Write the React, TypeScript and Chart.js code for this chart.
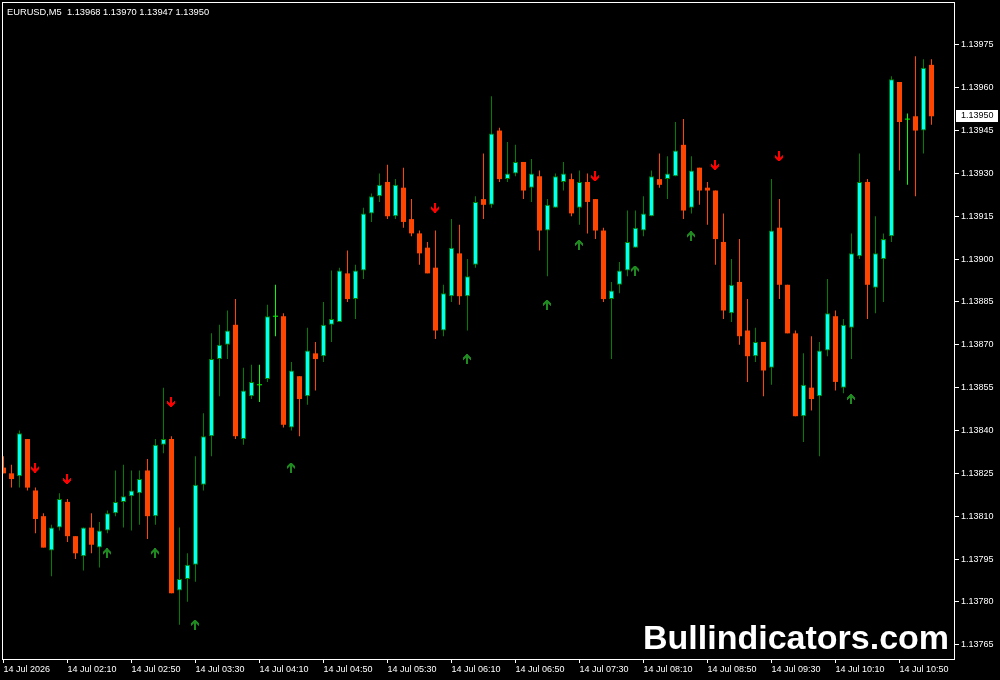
import { useEffect, useRef } from 'react';
import { Chart, registerables } from 'chart.js';

Chart.register(...registerables);

// ---- chart text ----
const symbolTitle = 'EURUSD,M5  1.13968 1.13970 1.13947 1.13950';
const watermark = 'Bullindicators.com';

// ---- EURUSD M5 candles (bar 0 = 14 Jul 2026 01:30) ----
const opens = [
  1.13827, 1.13825, 1.13824, 1.13837, 1.13819, 1.1381, 1.13798, 1.13806, 1.13815, 1.13803,
  1.13796, 1.13806, 1.13799, 1.13805, 1.13811, 1.13815, 1.13817, 1.13818, 1.13826, 1.1381,
  1.13835, 1.13837, 1.13784, 1.13788, 1.13793, 1.13821, 1.13838, 1.13865, 1.1387, 1.13877,
  1.13837, 1.13852, 1.13856, 1.13858, 1.1388, 1.1388, 1.13841, 1.13859, 1.13852, 1.13867,
  1.13866, 1.13877, 1.13878, 1.13895, 1.13886, 1.13896, 1.13916, 1.13922, 1.13927, 1.13915,
  1.13925, 1.13914, 1.13909, 1.13904, 1.13897, 1.13875, 1.13887, 1.13902, 1.13887, 1.13898,
  1.13921, 1.13919, 1.13945, 1.13928, 1.1393, 1.13934, 1.13925, 1.13929, 1.1391, 1.13918,
  1.13927, 1.13928, 1.13918, 1.13927, 1.13921, 1.1391, 1.13886, 1.13891, 1.13896, 1.13904,
  1.1391, 1.13915, 1.13928, 1.13928, 1.13929, 1.1394, 1.13918, 1.13932, 1.13925, 1.13924,
  1.13906, 1.13881, 1.13892, 1.13875, 1.13866, 1.13871, 1.13862, 1.13911, 1.13891, 1.13874,
  1.13845, 1.13855, 1.13852, 1.13868, 1.1388, 1.13855, 1.13876, 1.13901, 1.13927, 1.1389,
  1.139, 1.13908, 1.13962, 1.13949, 1.1395, 1.13945, 1.13968,
];
const highs = [
  1.13831, 1.13828, 1.1384, 1.13837, 1.1382, 1.13811, 1.13807, 1.13818, 1.13816, 1.13803,
  1.13806, 1.13811, 1.13808, 1.13812, 1.13826, 1.13828, 1.13826, 1.13826, 1.1383, 1.13837,
  1.13855, 1.13838, 1.13806, 1.13797, 1.13831, 1.13846, 1.13874, 1.13877, 1.13882, 1.13886,
  1.13862, 1.13863, 1.13863, 1.13884, 1.13891, 1.13881, 1.13864, 1.13859, 1.13876, 1.13871,
  1.13885, 1.13896, 1.13897, 1.13903, 1.13898, 1.13918, 1.13923, 1.1393, 1.13933, 1.13928,
  1.13932, 1.13921, 1.1391, 1.13906, 1.1391, 1.13891, 1.13914, 1.13912, 1.139, 1.13922,
  1.13937, 1.13957, 1.13946, 1.13941, 1.1394, 1.13934, 1.13935, 1.13931, 1.13921, 1.1393,
  1.13934, 1.1393, 1.13931, 1.1393, 1.13921, 1.13911, 1.13892, 1.13899, 1.13917, 1.13917,
  1.13922, 1.13931, 1.13937, 1.13936, 1.13948, 1.13949, 1.13936, 1.13932, 1.13927, 1.13924,
  1.13916, 1.139, 1.13907, 1.13886, 1.13876, 1.13871, 1.13928, 1.13921, 1.13891, 1.13875,
  1.13867, 1.13873, 1.13871, 1.13893, 1.13882, 1.13879, 1.13909, 1.13937, 1.13928, 1.13915,
  1.13909, 1.13964, 1.13962, 1.13951, 1.13971, 1.1397, 1.1397,
];
const lows = [
  1.13825, 1.1382, 1.1382, 1.13819, 1.13804, 1.13799, 1.13789, 1.13805, 1.13801, 1.13795,
  1.13791, 1.13797, 1.13792, 1.13804, 1.1381, 1.13806, 1.13805, 1.13807, 1.13802, 1.13807,
  1.13832, 1.13783, 1.13772, 1.1378, 1.13787, 1.13819, 1.13831, 1.13852, 1.13865, 1.13837,
  1.13835, 1.13851, 1.1385, 1.13857, 1.13873, 1.13841, 1.1384, 1.13838, 1.13849, 1.13854,
  1.13864, 1.13871, 1.13878, 1.13885, 1.13879, 1.13893, 1.13913, 1.1392, 1.13914, 1.13914,
  1.13911, 1.13908, 1.13898, 1.13895, 1.13872, 1.13873, 1.13885, 1.13884, 1.13875, 1.13897,
  1.13914, 1.13918, 1.13927, 1.13927, 1.13929, 1.13921, 1.1392, 1.13903, 1.13894, 1.13918,
  1.13924, 1.13915, 1.13912, 1.13909, 1.13907, 1.13885, 1.13865, 1.13888, 1.13894, 1.13904,
  1.13908, 1.13915, 1.13925, 1.13921, 1.13929, 1.13914, 1.13916, 1.13919, 1.13912, 1.13898,
  1.13879, 1.13878, 1.1387, 1.13857, 1.13864, 1.13852, 1.13856, 1.13886, 1.13874, 1.13845,
  1.13836, 1.13847, 1.13831, 1.13866, 1.13854, 1.13853, 1.13865, 1.139, 1.13879, 1.13881,
  1.13885, 1.13906, 1.13931, 1.13926, 1.13922, 1.13937, 1.13947,
];
const closes = [
  1.13825, 1.13823, 1.13839, 1.1382, 1.13809, 1.13799, 1.13806, 1.13816, 1.13803, 1.13797,
  1.13806, 1.138, 1.13805, 1.13811, 1.13815, 1.13817, 1.13819, 1.13823, 1.1381, 1.13835,
  1.13837, 1.13783, 1.13788, 1.13793, 1.13821, 1.13838, 1.13865, 1.1387, 1.13875, 1.13838,
  1.13854, 1.13857, 1.13856, 1.1388, 1.1388, 1.13842, 1.13861, 1.13851, 1.13868, 1.13865,
  1.13877, 1.13879, 1.13896, 1.13886, 1.13896, 1.13916, 1.13922, 1.13926, 1.13915, 1.13926,
  1.13913, 1.13909, 1.13902, 1.13895, 1.13875, 1.13888, 1.13904, 1.13887, 1.13894, 1.1392,
  1.13919, 1.13944, 1.13928, 1.1393, 1.13934, 1.13924, 1.1393, 1.1391, 1.13919, 1.13929,
  1.1393, 1.13916, 1.13927, 1.1392, 1.1391, 1.13886, 1.13889, 1.13896, 1.13906, 1.13911,
  1.13916, 1.13929, 1.13926, 1.1393, 1.13938, 1.13917, 1.13931, 1.13924, 1.13924, 1.13907,
  1.13882, 1.13891, 1.13873, 1.13866, 1.13871, 1.13861, 1.1391, 1.13891, 1.13874, 1.13845,
  1.13856, 1.13851, 1.13868, 1.13881, 1.13857, 1.13877, 1.13902, 1.13927, 1.13891, 1.13902,
  1.13907, 1.13963, 1.13948, 1.13949, 1.13945, 1.13967, 1.1395,
];

// ---- signal arrows (bar index, price) ----
const sellArrowBars = [4, 8, 21, 54, 74, 89, 97];
const sellArrowPrices = [1.13827, 1.13823, 1.1385, 1.13918, 1.13929, 1.13933, 1.13936];
const buyArrowBars = [13, 19, 24, 36, 58, 68, 72, 79, 86, 106];
const buyArrowPrices = [1.13797, 1.13797, 1.13772, 1.13827, 1.13865, 1.13884, 1.13905, 1.13896, 1.13908, 1.13851];

// ---- axes ----
const timeTickBars = [0, 8, 16, 24, 32, 40, 48, 56, 64, 72, 80, 88, 96, 104, 112];
const timeTickLabels = [
  '14 Jul 2026', '14 Jul 02:10', '14 Jul 02:50', '14 Jul 03:30', '14 Jul 04:10',
  '14 Jul 04:50', '14 Jul 05:30', '14 Jul 06:10', '14 Jul 06:50', '14 Jul 07:30',
  '14 Jul 08:10', '14 Jul 08:50', '14 Jul 09:30', '14 Jul 10:10', '14 Jul 10:50',
];
const priceTicks = [
  1.13765, 1.1378, 1.13795, 1.1381, 1.13825, 1.1384, 1.13855, 1.1387,
  1.13885, 1.139, 1.13915, 1.1393, 1.13945, 1.1396, 1.13975,
];
const priceMin = 1.1376;
const priceMax = 1.1399;

// ---- colours ----
const BULL_BODY = '#00ffff';
const BULL_LINE = '#008000';
const BEAR = '#ff4500';
const DOJI = '#00ff00';
const SELL_ARROW = '#ff0000';
const BUY_ARROW = '#1f8a1f';

const FONT = "'Liberation Sans', Arial, sans-serif";

function makeArrow(color: string, up: boolean): HTMLCanvasElement {
  const rows = [
    '...XX...',
    '...XX...',
    '...XX...',
    '...XX...',
    'X..XX..X',
    'XX.XX.XX',
    'XXXXXXXX',
    '.XXXXXX.',
    '..XXXX..',
    '...XX...',
  ];
  const shape = up ? [...rows].reverse() : rows;
  const c = document.createElement('canvas');
  c.width = 9;
  c.height = 10;
  const g = c.getContext('2d')!;
  g.fillStyle = color;
  shape.forEach((row, r) => {
    for (let k = 0; k < row.length; k++) if (row[k] === 'X') g.fillRect(k, r, 1, 1);
  });
  return c;
}

const terminalOverlay = {
  id: 'terminalOverlay',
  afterDraw(chart: any) {
    const { ctx, chartArea, scales } = chart;
    ctx.save();
    // plot frame
    ctx.strokeStyle = '#ffffff';
    ctx.lineWidth = 1;
    ctx.strokeRect(chartArea.left + 0.5, chartArea.top + 0.5, chartArea.right - chartArea.left - 1, chartArea.bottom - chartArea.top);

    // symbol / last bar header
    ctx.fillStyle = '#ffffff';
    ctx.font = `9.3px ${FONT}`;
    ctx.textBaseline = 'top';
    ctx.textAlign = 'left';
    ctx.fillText(symbolTitle, 7, 8);

    // current price marker on the price scale
    const last = closes[closes.length - 1];
    const py = Math.round(scales.y.getPixelForValue(last));
    ctx.fillStyle = '#ffffff';
    ctx.fillRect(chartArea.right + 1, py - 6, 42, 12);
    ctx.fillStyle = '#000000';
    ctx.font = `9px ${FONT}`;
    ctx.textBaseline = 'middle';
    ctx.fillText(last.toFixed(5), chartArea.right + 6, py);

    // watermark
    ctx.fillStyle = '#ffffff';
    ctx.font = `bold 34px ${FONT}`;
    ctx.textBaseline = 'alphabetic';
    ctx.fillText(watermark, 643, 649);
    ctx.restore();
  },
};

export default function App() {
  const canvasRef = useRef<HTMLCanvasElement | null>(null);

  useEffect(() => {
    const canvas = canvasRef.current;
    if (!canvas) return;

    const idx = opens.map((_, i) => i);
    const isDoji = (i: number) => opens[i] === closes[i];
    const bodyIdx = idx.filter((i) => !isDoji(i));
    const dojiIdx = idx.filter(isDoji);

    const wickColors = idx.map((i) => (isDoji(i) ? DOJI : closes[i] > opens[i] ? BULL_LINE : BEAR));
    const bodyFill = bodyIdx.map((i) => (closes[i] > opens[i] ? BULL_BODY : BEAR));
    const bodyBorder = bodyIdx.map((i) => (closes[i] > opens[i] ? BULL_LINE : BEAR));
    const bodyBorderWidth = bodyIdx.map((i) => (closes[i] > opens[i] ? 1 : 0));

    const sellIcon = makeArrow(SELL_ARROW, false);
    const buyIcon = makeArrow(BUY_ARROW, true);

    const tickFont = { family: FONT, size: 9, lineHeight: 1 };

    const chart = new Chart(canvas, {
      type: 'bar',
      data: {
        datasets: [
          {
            type: 'bar',
            label: 'wicks',
            data: idx.map((i) => ({ x: i, y: [lows[i], highs[i]] })) as any,
            backgroundColor: wickColors,
            borderWidth: 0,
            barThickness: 1,
            grouped: false,
            inflateAmount: 0,
            order: 3,
          } as any,
          {
            type: 'bar',
            label: 'bodies',
            data: bodyIdx.map((i) => ({ x: i, y: [opens[i], closes[i]] })) as any,
            backgroundColor: bodyFill,
            borderColor: bodyBorder,
            borderWidth: bodyBorderWidth,
            borderSkipped: false,
            barThickness: 5,
            grouped: false,
            inflateAmount: 0,
            order: 2,
          } as any,
          {
            type: 'scatter',
            label: 'doji',
            data: dojiIdx.map((i) => ({ x: i, y: opens[i] })),
            pointStyle: 'line',
            pointRadius: 2.5,
            borderColor: DOJI,
            pointBorderColor: DOJI,
            pointBorderWidth: 1,
            order: 1,
          } as any,
          {
            type: 'scatter',
            label: 'sell',
            data: sellArrowBars.map((b, k) => ({ x: b, y: sellArrowPrices[k] })),
            pointStyle: sellIcon,
            pointRadius: 5,
            order: 0,
          } as any,
          {
            type: 'scatter',
            label: 'buy',
            data: buyArrowBars.map((b, k) => ({ x: b, y: buyArrowPrices[k] })),
            pointStyle: buyIcon,
            pointRadius: 5,
            order: 0,
          } as any,
        ],
      },
      options: {
        animation: false,
        responsive: false,
        devicePixelRatio: 1,
        events: [],
        layout: { autoPadding: false, padding: { left: 2, top: 2, right: 0, bottom: 0 } },
        plugins: { legend: { display: false }, tooltip: { enabled: false } },
        scales: {
          x: {
            type: 'linear',
            position: 'bottom',
            min: -0.1875,
            max: 118.9375,
            offset: false,
            afterBuildTicks: (s: any) => {
              s.ticks = timeTickBars.map((v) => ({ value: v }));
            },
            afterFit: (s: any) => {
              s.height = 21;
              s.paddingLeft = 0;
              s.paddingRight = 0;
            },
            grid: { display: true, drawOnChartArea: false, drawTicks: true, tickLength: 4, color: '#ffffff', offset: false },
            border: { display: false },
            ticks: {
              color: '#ffffff',
              align: 'start',
              padding: 2,
              autoSkip: false,
              maxRotation: 0,
              minRotation: 0,
              font: tickFont,
              callback: (v: any) => timeTickLabels[timeTickBars.indexOf(Number(v))] ?? '',
            },
          } as any,
          y: {
            type: 'linear',
            position: 'right',
            min: priceMin,
            max: priceMax,
            beginAtZero: false,
            afterBuildTicks: (s: any) => {
              s.ticks = priceTicks.map((v) => ({ value: v }));
            },
            afterFit: (s: any) => {
              s.width = 45;
              s.paddingTop = 0;
              s.paddingBottom = 0;
            },
            grid: { display: true, drawOnChartArea: false, drawTicks: true, tickLength: 4, color: '#ffffff' },
            border: { display: false },
            ticks: {
              color: '#ffffff',
              padding: 2,
              font: tickFont,
              callback: (v: any) => Number(v).toFixed(5),
            },
          } as any,
        },
      },
      plugins: [terminalOverlay],
    });

    return () => chart.destroy();
  }, []);

  return (
    <div style={{ position: 'absolute', left: 0, top: 0, width: 1000, height: 680, background: '#000000' }}>
      <canvas ref={canvasRef} width={1000} height={680} style={{ display: 'block' }} />
    </div>
  );
}
